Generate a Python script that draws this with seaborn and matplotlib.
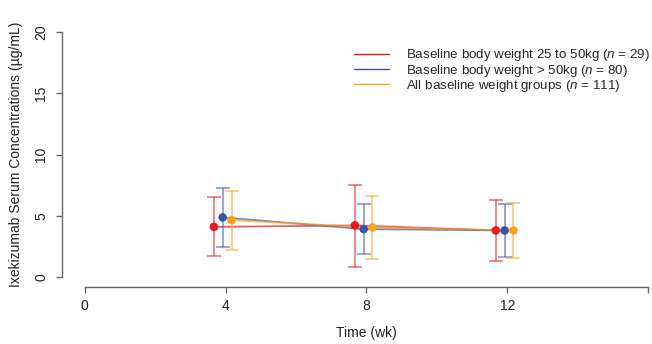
import matplotlib
matplotlib.use("Agg")
import matplotlib.pyplot as plt
import seaborn as sns
import numpy as np
import pandas as pd

weeks = [4, 8, 12]
groups = ["Baseline body weight 25 to 50kg ($n$ = 29)",
          "Baseline body weight > 50kg ($n$ = 80)",
          "All baseline weight groups ($n$ = 111)"]
offsets = [-0.33, -0.08, 0.17]
mean_red = [4.10, 4.22, 3.81]
lo_red = [1.69, 0.87, 1.31]
hi_red = [6.50, 7.48, 6.29]
mean_blue = [4.87, 3.92, 3.81]
lo_blue = [2.48, 1.85, 1.66]
hi_blue = [7.29, 5.96, 5.99]
mean_orange = [4.65, 4.05, 3.81]
lo_orange = [2.23, 1.50, 1.55]
hi_orange = [7.05, 6.64, 6.04]
colors = ["#e41a1c", "#3a55a5", "#f9a11b"]

means = [mean_red, mean_blue, mean_orange]
los = [lo_red, lo_blue, lo_orange]
his = [hi_red, hi_blue, hi_orange]

rows = []
for g, off, m, lo, hi in zip(groups, offsets, means, los, his):
    for w, mv, l, h in zip(weeks, m, lo, hi):
        rows.append(dict(group=g, week=w, x=w + off, mean=mv, lo=l, hi=h))
df = pd.DataFrame(rows)

sns.set_style("white")
plt.rcParams["font.family"] = ["Liberation Sans", "DejaVu Sans"]
plt.rcParams["mathtext.fontset"] = "custom"
plt.rcParams["mathtext.it"] = "Liberation Sans:italic"
plt.rcParams["mathtext.rm"] = "Liberation Sans"

fig = plt.figure(figsize=(6.52, 3.44), dpi=100)
ax = fig.add_axes([62/652, 1 - 287/344, (671 - 62)/652, (287 - 22)/344])

palette = dict(zip(groups, colors))
sns.lineplot(data=df, x="x", y="mean", hue="group", palette=palette, ax=ax,
             lw=1.3, alpha=0.7, legend=True, sort=True)
for g, c in zip(groups, colors):
    d = df[df.group == g]
    ax.errorbar(d["x"], d["mean"], yerr=[d["mean"] - d["lo"], d["hi"] - d["mean"]],
                fmt="none", ecolor=c, elinewidth=1.2, capsize=4.7, capthick=1.2, alpha=0.6)
sns.scatterplot(data=df, x="x", y="mean", hue="group", palette=palette, ax=ax,
                s=38, edgecolor="none", legend=False, zorder=5)

ax.set_xlim(-0.64, 16.64)
ax.set_ylim(-0.8, 20.8)
ax.set_xticks([0, 4, 8, 12, 16])
ax.set_xticklabels(["0", "4", "8", "12", ""])
ax.set_yticks([0, 5, 10, 15, 20])
ax.set_yticklabels(["0", "5", "10", "15", "20"], rotation=90, va="center")
for s in ["top", "right"]:
    ax.spines[s].set_visible(False)
ax.spines["left"].set_bounds(0, 20)
ax.spines["bottom"].set_bounds(0, 16)
for s in ["left", "bottom"]:
    ax.spines[s].set_color("#666666")
    ax.spines[s].set_linewidth(1.0)
ax.tick_params(axis="both", which="both", bottom=True, left=True, length=4,
               width=1.0, color="#666666", labelsize=10, labelcolor="#222222")
ax.tick_params(axis="x", pad=5)
ax.tick_params(axis="y", pad=6)
ax.set_xlabel("Time (wk)", fontsize=10, color="#222222", labelpad=9)
ax.set_ylabel("Ixekizumab Serum Concentrations (µg/mL)", fontsize=10,
              color="#222222", labelpad=8)

leg = ax.legend(loc="upper left", bbox_to_anchor=((349 - 62) / 609, 1 - (42 - 22) / 265),
                frameon=False, fontsize=9.6, handlelength=2.6, handletextpad=1.3,
                labelspacing=-0.05, borderaxespad=0)
for h in leg.get_lines():
    h.set_alpha(1.0)
    h.set_linewidth(1.0)

fig.savefig("out.png", dpi=100)
